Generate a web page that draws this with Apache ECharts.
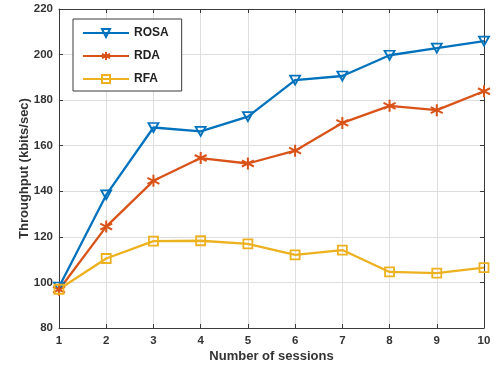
<!DOCTYPE html>
<html>
<head>
<meta charset="utf-8">
<script src="https://cdn.jsdelivr.net/npm/echarts@6/dist/echarts.min.js"></script>
<style>html,body{margin:0;padding:0;background:#fff;}#c{width:502px;height:367px;}</style>
</head>
<body>
<div id="c"></div>
<script>
var categories = ['1','2','3','4','5','6','7','8','9','10'];
var rosa = [98, 138.4, 168, 166.3, 172.8, 188.8, 190.6, 199.7, 202.8, 205.9];
var rda  = [96.8, 124.5, 144.6, 154.6, 152.2, 157.8, 170, 177.5, 175.6, 183.9];
var rfa  = [97, 110.5, 118.1, 118.3, 116.9, 112.1, 114.2, 104.6, 104.1, 106.5];
var yTicks = [80, 100, 120, 140, 160, 180, 200, 220];

var FONT = 'Liberation Sans, Arial, sans-serif';
var TXT = '#333';
var AX = '#3a3a3a';
var GRID = '#dedede';

var triDown = 'path://M-5,-4.5L5,-4.5L0,4.5Z';
var aster = 'path://M0,-5L0,5M-4.33,-2.5L4.33,2.5M-4.33,2.5L4.33,-2.5';
var square = 'path://M-4,-4L4,-4L4,4L-4,4Z';

function series(name, data, color, sym, size, bw) {
  return {
    name: name, type: 'line', data: data,
    symbol: sym, symbolSize: size, showAllSymbol: true,
    lineStyle: { color: color, width: 2.3 },
    itemStyle: { color: 'rgba(255,255,255,0)', borderColor: color, borderWidth: bw },
    emphasis: { disabled: true },
    animation: false
  };
}

var chart = echarts.init(document.getElementById('c'));
chart.setOption({
  animation: false,
  color: ['#0072BD', '#D95319', '#EDB120'],
  grid: { left: 59, right: 18, top: 9, bottom: 39, show: false, containLabel: false, outerBoundsMode: 'none' },
  legend: {
    orient: 'vertical', left: 73, top: 19,
    padding: [8, 13, 6, 9],
    itemWidth: 46, itemHeight: 10, itemGap: 11,
    borderColor: '#3a3a3a', borderWidth: 1, backgroundColor: '#fff',
    textStyle: { fontFamily: FONT, fontWeight: 'bold', fontSize: 12, color: '#222' },
    data: ['ROSA', 'RDA', 'RFA']
  },
  xAxis: [{
    type: 'category', data: categories, boundaryGap: false,
    name: 'Number of sessions', nameLocation: 'middle', nameGap: 22, nameMoveOverlap: false,
    nameTextStyle: { fontFamily: FONT, fontWeight: 'bold', fontSize: 13, color: TXT },
    axisLine: { lineStyle: { color: AX, width: 1 } },
    axisTick: { inside: true, length: 4, lineStyle: { color: AX } },
    axisLabel: { fontFamily: FONT, fontWeight: 'bold', fontSize: 11.5, color: TXT, margin: 7 },
    splitLine: { show: true, lineStyle: { color: GRID, width: 1 } }
  }, {
    type: 'category', data: categories, boundaryGap: false, position: 'top',
    axisLine: { lineStyle: { color: AX, width: 1 } },
    axisTick: { inside: true, length: 4, lineStyle: { color: AX } },
    axisLabel: { show: false }, splitLine: { show: false }
  }],
  yAxis: [{
    type: 'value', min: 80, max: 220, interval: 20,
    name: 'Throughput (kbits/sec)', nameLocation: 'middle', nameGap: 28, nameRotate: 90, nameMoveOverlap: false,
    nameTextStyle: { fontFamily: FONT, fontWeight: 'bold', fontSize: 13, color: TXT },
    axisLine: { show: true, lineStyle: { color: AX, width: 1 } },
    axisTick: { show: true, inside: true, length: 4, lineStyle: { color: AX } },
    axisLabel: { fontFamily: FONT, fontWeight: 'bold', fontSize: 11.5, color: TXT, margin: 6,
      formatter: function (v) { return yTicks.indexOf(v) >= 0 ? String(v) : ''; } },
    splitLine: { show: true, lineStyle: { color: GRID, width: 1 } }
  }, {
    type: 'value', min: 80, max: 220, interval: 20, position: 'right',
    axisLine: { show: true, lineStyle: { color: AX, width: 1 } },
    axisTick: { show: true, inside: true, length: 4, lineStyle: { color: AX } },
    axisLabel: { show: false }, splitLine: { show: false }
  }],
  series: [
    series('ROSA', rosa, '#0072BD', triDown, [10, 9], 1.8),
    series('RDA', rda, '#D95319', aster, 12, 2),
    series('RFA', rfa, '#EDB120', square, 9, 1.8)
  ]
});
</script>
</body>
</html>
